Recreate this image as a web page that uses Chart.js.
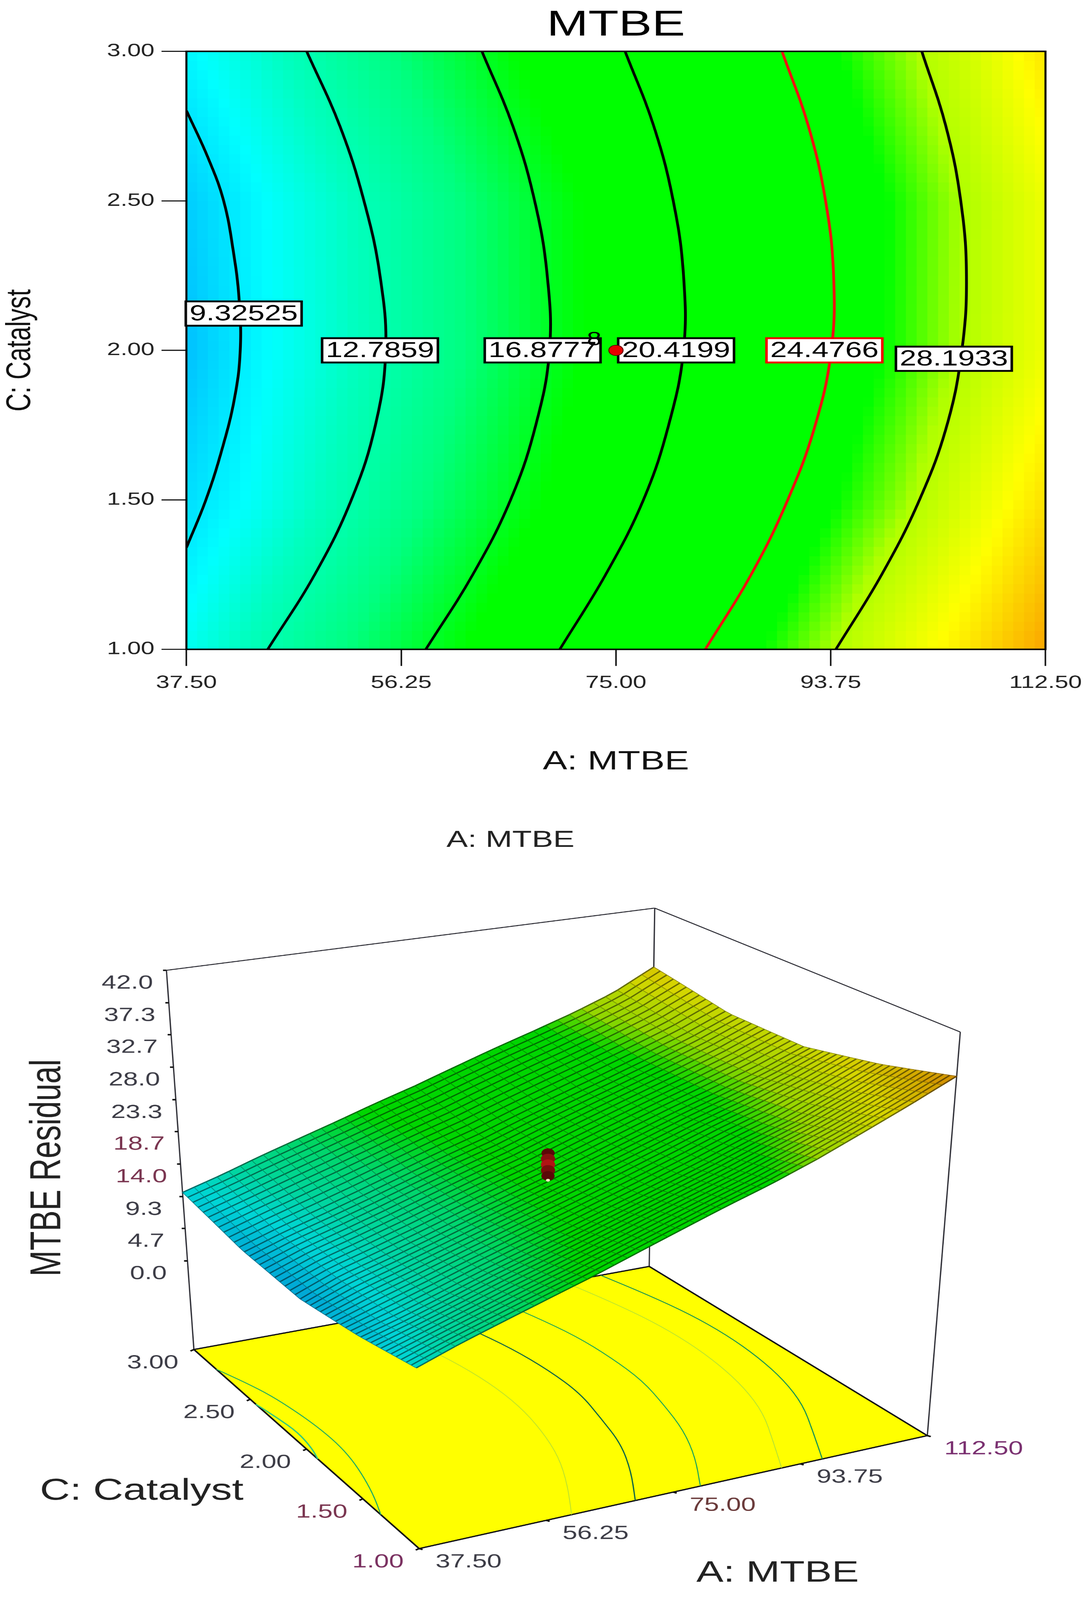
<!DOCTYPE html>
<html>
<head>
<meta charset="utf-8">
<title>MTBE</title>
<script src="https://cdn.jsdelivr.net/npm/chart.js@4"></script>
<style>
  html, body { margin: 0; padding: 0; background: #fff; overflow: hidden; }
  /* the source picture is stretched sideways, so the canvases are too.
     Heights are shares of the window so the whole picture always fits */
  canvas { display: block; width: 2793px !important; }
  #contourChart { height: 50.575vh !important; }
  #surfaceChart { height: 49.425vh !important; }
</style>
</head>
<body>
<canvas id="contourChart" width="2148" height="2200"></canvas>
<canvas id="surfaceChart" width="2148" height="2150"></canvas>
<script>
// Axis ticks
const mtbeTicks = [37.5, 56.25, 75, 93.75, 112.5];
const catalystTicks = [1, 1.5, 2, 2.5, 3];
const residualTicks = [0, 4.7, 9.3, 14, 18.7, 23.3, 28, 32.7, 37.3, 42];

const mtbeColumns = [37.5, 43.75, 50, 56.25, 62.5, 68.75, 75, 81.25, 87.5, 93.75, 100, 106.25, 112.5];
const catalystRows = [1, 1.5, 2, 2.5, 3];
const responseAtC100 = [10.6, 12.6, 14.4, 16.2, 18.0, 20.0, 22.0, 24.0, 25.9, 28.1, 30.6, 33.2, 36.0];
const responseAtC150 = [8.9, 10.5, 12.3, 14.2, 16.0, 17.8, 19.7, 21.6, 23.6, 25.8, 27.8, 30.4, 33.2];
const responseAtC200 = [7.7, 9.9, 11.5, 13.2, 15.0, 16.8, 18.6, 20.6, 22.6, 24.6, 26.5, 28.6, 31.0];
const responseAtC250 = [8.2, 10.0, 11.6, 13.3, 15.1, 16.9, 18.6, 20.6, 22.5, 24.4, 26.4, 28.5, 31.0];
const responseAtC300 = [9.9, 11.5, 13.3, 15.0, 16.7, 18.5, 20.2, 22.1, 24.0, 25.8, 27.7, 29.9, 33.0];
const responseGrid = [responseAtC100, responseAtC150, responseAtC200, responseAtC250, responseAtC300];

// Contour lines of the top plot
const contourLabels = ["9.32525", "12.7859", "16.8777", "20.4199", "24.4766", "28.1933"];
const contourRows = [3, 2.75, 2.5, 2.25, 2, 1.75, 1.5, 1.25, 1];
const contour9C = [2.802, 2.643, 2.5, 2.33, 2.17, 2, 1.84, 1.668, 1.5, 1.34];
const contour9A = [37.5, 39.4, 40.75, 41.6, 42.1, 42.2, 41.7, 40.6, 39.2, 37.5];
const contour12A = [48.0, 50.9, 53.0, 54.4, 54.9, 54.0, 51.9, 48.7, 44.6];
const contour16A = [63.3, 66.0, 67.9, 69.0, 69.2, 68.0, 65.8, 62.5, 58.4];
const contour20A = [75.8, 78.3, 80.0, 80.9, 80.9, 79.6, 77.4, 74.1, 70.1];
const contour24A = [89.5, 91.8, 93.3, 94.0, 93.8, 92.4, 90.0, 86.8, 82.8];
const contour28A = [101.7, 103.8, 105.1, 105.6, 105.2, 103.9, 101.5, 98.2, 94.2];

// Contour lines on the floor of the 3D plot sit at other levels
const floorEdgeA = [37.5, 38.3, 38.8, 38.3, 37.5];
const floorEdgeC = [2.45, 2.3, 2.15, 2.0, 1.9];
const floor60A = [64.9, 67.7, 69.7, 70.7, 70.6, 69.3, 67.2, 63.9, 60.0];
const floor70A = [75.1, 77.5, 79.4, 80.2, 80.1, 78.4, 76.6, 73.4, 69.4];
const floor79A = [85.7, 88.0, 89.7, 90.1, 89.8, 88.1, 86.1, 83.0, 79.0];
const floor91A = [98.5, 100.5, 101.9, 102.3, 101.8, 100.5, 98.2, 94.6, 91.0];
const floor97A = [104.5, 106.5, 107.9, 108.3, 107.8, 106.5, 104.2, 100.6, 97.0];

// Where each contour carries its label
const labelA = [42.5, 54.4, 68.6, 80.25, 93.2, 104.5];
const labelC = [2.123, 2.0, 2.0, 2.0, 2.0, 1.972];

// Design points at the centre
const centerA = [75];
const centerC = [2];
const centerResidual = [21.8, 21.0, 20.2, 19.4, 18.6, 18.0];

const FONT = '"Liberation Sans", Arial, sans-serif';

// colour ramp of the plot, [value, r, g, b]
const ramp = [
  [6, 0, 144, 255], [7.7, 0, 192, 255], [10.2, 0, 255, 255], [12.1, 0, 255, 192],
  [14.8, 0, 255, 128], [17.8, 0, 255, 0], [26, 0, 255, 0], [27, 80, 255, 0],
  [28.2, 176, 255, 0], [31.8, 255, 255, 0], [36, 250, 165, 0]
];

function rampColor(z) {
  if (z <= ramp[0][0]) return ramp[0].slice(1);
  for (let i = 1; i < ramp.length; i++) {
    if (z <= ramp[i][0]) {
      const t = (z - ramp[i - 1][0]) / (ramp[i][0] - ramp[i - 1][0]);
      return [1, 2, 3].map(k => ramp[i - 1][k] + (ramp[i][k] - ramp[i - 1][k]) * t);
    }
  }
  return ramp[ramp.length - 1].slice(1);
}

function cssColor(rgb, factor) {
  const f = factor === undefined ? 1 : factor;
  return `rgb(${Math.round(rgb[0] * f)},${Math.round(rgb[1] * f)},${Math.round(rgb[2] * f)})`;
}

// Shade between the values
function responseAt(a, c) {
  const u = Math.min(mtbeColumns.length - 1.001, (a - 37.5) / 6.25);
  const v = Math.min(catalystRows.length - 1.001, (c - 1) / 0.5);
  const i = Math.floor(u), j = Math.floor(v);
  const s = u - i, t = v - j;
  const low = responseGrid[j][i] * (1 - s) + responseGrid[j][i + 1] * s;
  const high = responseGrid[j + 1][i] * (1 - s) + responseGrid[j + 1][i + 1] * s;
  return low * (1 - t) + high * t;
}

function contourData(xs, ys) {
  return xs.map((x, i) => ({ x: x, y: ys[i] }));
}

function contourDataset(xs, ys, color) {
  return {
    data: contourData(xs, ys),
    showLine: true,
    borderColor: color,
    borderWidth: 5.5,
    pointRadius: 0,
    tension: 0.4,
    fill: false
  };
}

// ---------- top chart: contour plot ----------

const heatPlugin = {
  id: "heat",
  beforeDatasetsDraw(chart) {
    const { ctx, scales: { x, y } } = chart;
    const cols = 80, rows = 64;
    ctx.save();
    for (let i = 0; i < cols; i++) {
      for (let j = 0; j < rows; j++) {
        const a0 = 37.5 + 75 * i / cols, a1 = 37.5 + 75 * (i + 1) / cols;
        const c0 = 1 + 2 * j / rows, c1 = 1 + 2 * (j + 1) / rows;
        ctx.fillStyle = cssColor(rampColor(responseAt((a0 + a1) / 2, (c0 + c1) / 2)));
        const px = x.getPixelForValue(a0), py = y.getPixelForValue(c1);
        ctx.fillRect(px, py, x.getPixelForValue(a1) - px + 1, y.getPixelForValue(c0) - py + 1);
      }
    }
    ctx.restore();
  }
};

// Boxes go on after the last contour, so the centre point stays on top of them
const contourLabelPlugin = {
  id: "contourLabels",
  afterDatasetDraw(chart, args) {
    if (args.index !== 0) return;
    const { ctx, chartArea: area, scales: { x, y } } = chart;
    ctx.save();
    ctx.strokeStyle = "#000";
    ctx.lineWidth = 4;
    ctx.strokeRect(area.left, area.top, area.right - area.left, area.bottom - area.top);
    ctx.textAlign = "center";
    ctx.textBaseline = "middle";
    contourLabels.forEach((text, i) => {
      const cx = x.getPixelForValue(labelA[i]), cy = y.getPixelForValue(labelC[i]);
      ctx.fillStyle = "#fff";
      ctx.fillRect(cx - 114, cy - 33, 228, 66);
      ctx.strokeStyle = text === "24.4766" ? "#f00000" : "#000";
      ctx.lineWidth = 5;
      ctx.strokeRect(cx - 114, cy - 33, 228, 66);
      ctx.fillStyle = "#000";
      ctx.font = `59px ${FONT}`;
      ctx.fillText(text, cx, cy + 2);
    });
    ctx.font = `52px ${FONT}`;
    ctx.fillText("8", x.getPixelForValue(73.1), y.getPixelForValue(2.035));
    ctx.restore();
  }
};

new Chart(document.getElementById("contourChart"), {
  type: "scatter",
  data: {
    datasets: [
      contourDataset(contour9A, contour9C, "#000"),
      contourDataset(contour12A, contourRows, "#000"),
      contourDataset(contour16A, contourRows, "#000"),
      contourDataset(contour20A, contourRows, "#000"),
      contourDataset(contour24A, contourRows, "#f01010"),
      contourDataset(contour28A, contourRows, "#000"),
      {
        data: contourData(centerA, centerC),
        order: -1,
        pointRadius: 14,
        pointBackgroundColor: "#e80000",
        pointBorderColor: "#600",
        pointBorderWidth: 2
      }
    ]
  },
  options: {
    responsive: false,
    animation: false,
    devicePixelRatio: 1.5,
    layout: { padding: { left: 0, right: 89, top: 0, bottom: 0 } },
    plugins: {
      legend: { display: false },
      tooltip: { enabled: false },
      title: {
        display: true,
        text: "MTBE",
        color: "#000",
        fullSize: false,
        font: { family: FONT, size: 98, weight: "normal" },
        padding: { top: 11, bottom: 11 }
      }
    },
    scales: {
      x: {
        type: "linear",
        min: 37.5,
        max: 112.5,
        afterBuildTicks: scale => { scale.ticks = mtbeTicks.map(v => ({ value: v })); },
        afterFit: scale => { scale.height = 435; },
        border: { display: false },
        grid: { drawOnChartArea: false, tickLength: 45, tickColor: "#111", lineWidth: 3 },
        ticks: {
          autoSkip: false,
          maxRotation: 0,
          padding: 18,
          color: "#222",
          font: { family: FONT, size: 48 },
          callback: v => v.toFixed(2)
        },
        title: {
          display: true,
          text: "A: MTBE",
          color: "#111",
          font: { family: FONT, size: 72 },
          padding: { top: 0, bottom: 85 }
        }
      },
      y: {
        type: "linear",
        min: 1,
        max: 3,
        afterBuildTicks: scale => { scale.ticks = catalystTicks.map(v => ({ value: v })); },
        afterFit: scale => { scale.width = 367; },
        border: { display: false },
        grid: { drawOnChartArea: false, tickLength: 49, tickColor: "#111", lineWidth: 3 },
        ticks: {
          autoSkip: false,
          padding: 14,
          color: "#222",
          font: { family: FONT, size: 48 },
          callback: v => v.toFixed(2)
        },
        title: {
          display: true,
          text: "C: Catalyst",
          color: "#111",
          font: { family: FONT, size: 68 },
          padding: 0
        }
      }
    }
  },
  plugins: [heatPlugin, contourLabelPlugin]
});

// ---------- bottom chart: response surface ----------

// box corners on the hidden plane axes, [x, y]; floor then lid,
// named by MTBE low/high and catalyst low/high
const FLOOR_Z = -12.8;
const floorLL = [600, 1475], floorHL = [1340, 1248], floorLH = [272, 1075], floorHH = [935, 908];
const lidLL = [590, 625], lidHL = [1388, 437], lidLH = [232, 313], lidHH = [943, 188];

function project(a, c, z) {
  const u = (a - 37.5) / 75, v = (c - 1) / 2, w = (z - FLOOR_Z) / (42 - FLOOR_Z);
  const mix = k => {
    const floor = (floorLL[k] * (1 - u) + floorHL[k] * u) * (1 - v) + (floorLH[k] * (1 - u) + floorHH[k] * u) * v;
    const lid = (lidLL[k] * (1 - u) + lidHL[k] * u) * (1 - v) + (lidLH[k] * (1 - u) + lidHH[k] * u) * v;
    return floor * (1 - w) + lid * w;
  };
  return { x: mix(0), y: mix(1) };
}

const tintedLabels = { "18.7": "#7a3550", "14.0": "#7a3550", "1.50": "#7a3550", "1.00": "#7a3060", "112.50": "#7a3070", "75.00": "#6a3a3a" };

const surfacePlugin = {
  id: "surface",
  beforeDatasetsDraw(chart) {
    const { ctx, scales: { x, y } } = chart;
    const toPx = p => [x.getPixelForValue(p.x), y.getPixelForValue(p.y)];
    const at = (a, c, z) => toPx(project(a, c, z));
    const path = points => {
      ctx.beginPath();
      points.forEach((p, i) => (i ? ctx.lineTo(p[0], p[1]) : ctx.moveTo(p[0], p[1])));
    };
    const plane = p => toPx({ x: p[0], y: p[1] });

    ctx.save();
    ctx.lineJoin = "round";

    // walls
    ctx.strokeStyle = "#2a2a32";
    ctx.lineWidth = 2.5;
    [[lidLH, lidHH], [lidHH, lidHL], [lidLH, floorLH], [lidHH, floorHH], [lidHL, floorHL]].forEach(pair => {
      path(pair.map(plane));
      ctx.stroke();
    });

    // floor
    path([floorLL, floorHL, floorHH, floorLH].map(plane));
    ctx.closePath();
    ctx.fillStyle = "#ffff00";
    ctx.fill();
    ctx.strokeStyle = "#101014";
    ctx.lineWidth = 3.5;
    ctx.stroke();

    // contours on the floor
    const floorLines = [
      [contour9A, contour9C, "#18a868", 2.2],
      [floorEdgeA, floorEdgeC, "#30c880", 3],
      [floor60A, contourRows, "#b8e030", 1.6],
      [floor70A, contourRows, "#06604a", 2.4],
      [floor79A, contourRows, "#10a060", 2],
      [floor91A, contourRows, "#b0e038", 1.6],
      [floor97A, contourRows, "#109058", 2.2]
    ];
    floorLines.forEach(line => {
      const points = line[0].map((a, i) => toPx(project(a, line[1][i], FLOOR_Z)));
      ctx.beginPath();
      points.forEach((p, i) => {
        if (!i) { ctx.moveTo(p[0], p[1]); return; }
        // midpoints keep the read points smooth on the floor
        const q = points[i - 1];
        ctx.quadraticCurveTo(q[0], q[1], (q[0] + p[0]) / 2, (q[1] + p[1]) / 2);
        if (i === points.length - 1) ctx.lineTo(p[0], p[1]);
      });
      ctx.strokeStyle = line[2];
      ctx.lineWidth = line[3];
      ctx.stroke();
    });

    // surface cells
    const nA = 40, nC = 46;
    const aOf = i => 37.5 + 75 * i / nA, cOf = j => 1 + 2 * j / nC;
    for (let j = nC - 1; j >= 0; j--) {
      for (let i = 0; i < nA; i++) {
        const zMid = responseAt((aOf(i) + aOf(i + 1)) / 2, (cOf(j) + cOf(j + 1)) / 2);
        const color = cssColor(rampColor(zMid), 0.84);
        path([
          at(aOf(i), cOf(j), responseAt(aOf(i), cOf(j))),
          at(aOf(i + 1), cOf(j), responseAt(aOf(i + 1), cOf(j))),
          at(aOf(i + 1), cOf(j + 1), responseAt(aOf(i + 1), cOf(j + 1))),
          at(aOf(i), cOf(j + 1), responseAt(aOf(i), cOf(j + 1)))
        ]);
        ctx.closePath();
        ctx.fillStyle = color;
        ctx.strokeStyle = color;
        ctx.lineWidth = 1;
        ctx.fill();
        ctx.stroke();
      }
    }
    // mesh: the lines running along MTBE are the heavy ones
    for (let j = 0; j <= nC; j++) {
      for (let i = 0; i < nA; i++) {
        const zMid = responseAt((aOf(i) + aOf(i + 1)) / 2, cOf(j));
        path([at(aOf(i), cOf(j), responseAt(aOf(i), cOf(j))), at(aOf(i + 1), cOf(j), responseAt(aOf(i + 1), cOf(j)))]);
        ctx.strokeStyle = cssColor(rampColor(zMid), 0.42);
        ctx.lineWidth = 3.2;
        ctx.stroke();
      }
    }
    for (let i = 0; i <= nA; i++) {
      for (let j = 0; j < nC; j++) {
        const zMid = responseAt(aOf(i), (cOf(j) + cOf(j + 1)) / 2);
        path([at(aOf(i), cOf(j), responseAt(aOf(i), cOf(j))), at(aOf(i), cOf(j + 1), responseAt(aOf(i), cOf(j + 1)))]);
        ctx.strokeStyle = cssColor(rampColor(zMid), 0.55);
        ctx.lineWidth = 1.5;
        ctx.stroke();
      }
    }
    ctx.restore();
  },
  afterDatasetsDraw(chart) {
    const { ctx, scales: { x, y } } = chart;
    const text = (str, zoomX, zoomY, size, color, rotate) => {
      ctx.save();
      ctx.translate(x.getPixelForValue(zoomX), y.getPixelForValue(zoomY));
      if (rotate) ctx.rotate(-Math.PI / 2);
      ctx.textAlign = "center";
      ctx.textBaseline = "middle";
      ctx.font = `${size}px ${FONT}`;
      ctx.fillStyle = color;
      ctx.fillText(str, 0, 0);
      ctx.restore();
    };
    const tick = (p, dx, dy) => {
      ctx.beginPath();
      ctx.moveTo(x.getPixelForValue(p.x), y.getPixelForValue(p.y));
      ctx.lineTo(x.getPixelForValue(p.x + dx), y.getPixelForValue(p.y + dy));
      ctx.strokeStyle = "#111";
      ctx.lineWidth = 4;
      ctx.stroke();
    };
    const tint = s => tintedLabels[s] || "#3c3c46";

    residualTicks.forEach(v => {
      const p = project(37.5, 3, v);
      tick(p, -5, 0);
      const s = v.toFixed(1);
      text(s, p.x - 57, p.y + 26, 52, tint(s));
    });
    catalystTicks.forEach(v => {
      const p = project(37.5, v, FLOOR_Z);
      tick(p, -5, 3);
      const s = v.toFixed(2);
      text(s, p.x - 60, p.y + 27, 52, tint(s));
    });
    mtbeTicks.forEach(v => {
      const p = project(v, 1, FLOOR_Z);
      tick(p, 5, 2);
      const s = v.toFixed(2);
      text(s, p.x + (v === 112.5 ? 82 : 72), p.y + 27, 52, tint(s));
    });

    text("A: MTBE", 733, 52, 63, "#222");
    text("MTBE Residual", 60, 710, 85, "#222", true);
    text("C: Catalyst", 196, 1360, 82, "#222");
    text("A: MTBE", 1122, 1525, 80, "#222");
  }
};

new Chart(document.getElementById("surfaceChart"), {
  type: "scatter",
  data: {
    datasets: [{
      data: centerResidual.map(z => project(centerA[0], centerC[0], z)),
      pointRadius: [13, 14, 14, 14, 13, 4],
      pointBackgroundColor: ["#5a0808", "#8a1010", "#b01414", "#7a0c0c", "#5a0808", "#f0e8c0"],
      pointBorderColor: "#400",
      pointBorderWidth: 0
    }]
  },
  options: {
    responsive: false,
    animation: false,
    devicePixelRatio: 1.5,
    plugins: { legend: { display: false }, tooltip: { enabled: false } },
    scales: {
      x: { type: "linear", display: false, min: 0, max: 1568 },
      y: { type: "linear", display: false, min: 0, max: 1568, reverse: true }
    }
  },
  plugins: [surfacePlugin]
});
</script>
</body>
</html>
